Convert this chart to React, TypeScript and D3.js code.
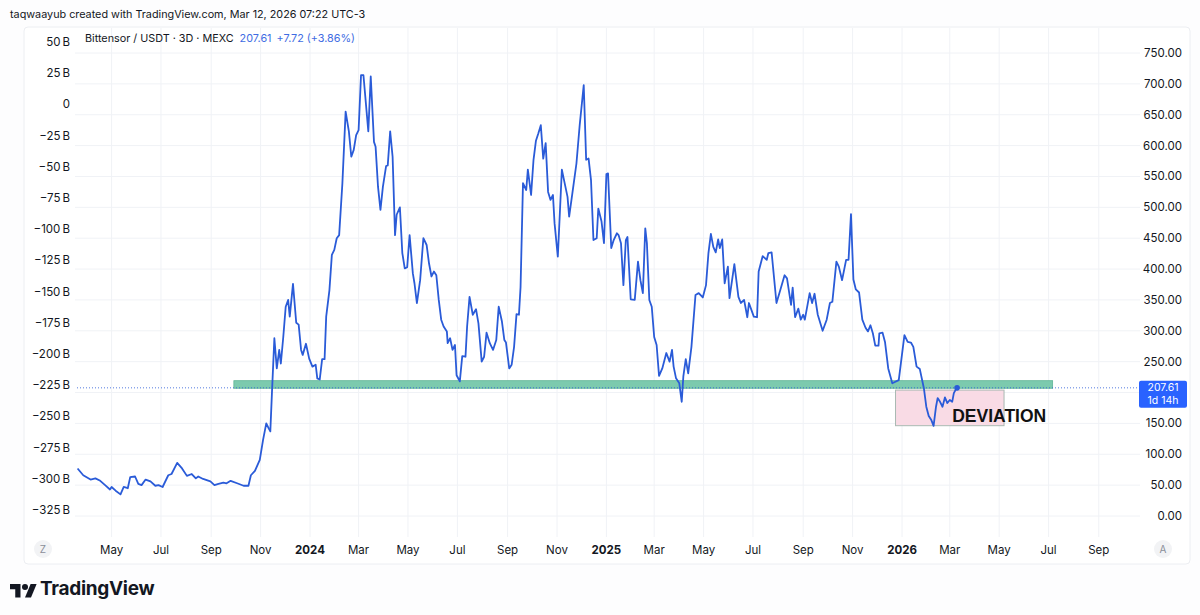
import React from "react";
import * as d3 from "d3";

// TAO / USDT 3D closes
const closes2023: [string, number][] = [
	["2023-03-20", 77], ["2023-03-27", 66], ["2023-04-05", 59], ["2023-04-11", 61],
	["2023-04-17", 57], ["2023-04-23", 50], ["2023-04-29", 43], ["2023-05-01", 47],
	["2023-05-06", 41], ["2023-05-12", 35], ["2023-05-16", 47], ["2023-05-21", 45],
	["2023-05-24", 63], ["2023-05-30", 64], ["2023-06-03", 52], ["2023-06-07", 50],
	["2023-06-12", 59], ["2023-06-18", 56], ["2023-06-24", 49], ["2023-06-28", 50],
	["2023-07-03", 47], ["2023-07-10", 66], ["2023-07-14", 68], ["2023-07-21", 86],
	["2023-07-27", 77], ["2023-08-02", 65], ["2023-08-08", 68], ["2023-08-13", 61],
	["2023-08-16", 64], ["2023-08-22", 60], ["2023-08-31", 56], ["2023-09-05", 50],
	["2023-09-10", 52], ["2023-09-16", 54], ["2023-09-20", 53], ["2023-09-25", 57],
	["2023-10-03", 53], ["2023-10-11", 49], ["2023-10-17", 49], ["2023-10-20", 66],
	["2023-10-25", 73], ["2023-10-31", 91], ["2023-11-04", 123], ["2023-11-08", 150],
	["2023-11-11", 142], ["2023-11-13", 137], ["2023-11-15", 199], ["2023-11-18", 288],
	["2023-11-21", 239], ["2023-11-24", 269], ["2023-11-26", 247], ["2023-11-29", 290],
	["2023-12-02", 339], ["2023-12-05", 350], ["2023-12-07", 323], ["2023-12-11", 376],
	["2023-12-15", 313], ["2023-12-18", 310], ["2023-12-21", 269], ["2023-12-23", 261],
	["2023-12-27", 279], ["2023-12-31", 255],
];

const closes2024: [string, number][] = [
	["2024-01-04", 242], ["2024-01-08", 245], ["2024-01-10", 223], ["2024-01-13", 221],
	["2024-01-16", 254], ["2024-01-19", 254], ["2024-01-21", 323], ["2024-01-25", 366],
	["2024-01-28", 423], ["2024-01-31", 431], ["2024-02-03", 450], ["2024-02-06", 455],
	["2024-02-10", 539], ["2024-02-14", 655], ["2024-02-18", 623], ["2024-02-21", 582],
	["2024-02-24", 593], ["2024-02-27", 617], ["2024-03-01", 625], ["2024-03-04", 714],
	["2024-03-07", 714], ["2024-03-13", 623], ["2024-03-16", 712], ["2024-03-20", 606],
	["2024-03-22", 598], ["2024-03-25", 533], ["2024-03-28", 496], ["2024-03-31", 533],
	["2024-04-04", 567], ["2024-04-06", 568], ["2024-04-09", 623], ["2024-04-12", 582],
	["2024-04-15", 455], ["2024-04-17", 488], ["2024-04-21", 500], ["2024-04-24", 426],
	["2024-04-27", 401], ["2024-04-30", 403], ["2024-05-03", 455], ["2024-05-07", 393],
	["2024-05-09", 377], ["2024-05-12", 345], ["2024-05-16", 382], ["2024-05-20", 450],
	["2024-05-24", 439], ["2024-05-27", 409], ["2024-05-30", 388], ["2024-06-02", 396],
	["2024-06-05", 390], ["2024-06-08", 350], ["2024-06-11", 318], ["2024-06-14", 307],
	["2024-06-18", 299], ["2024-06-19", 280], ["2024-06-22", 288], ["2024-06-25", 269],
	["2024-06-28", 277], ["2024-06-30", 228], ["2024-07-04", 218], ["2024-07-07", 259],
	["2024-07-11", 258], ["2024-07-13", 307], ["2024-07-16", 355], ["2024-07-20", 326],
	["2024-07-24", 335], ["2024-07-27", 312], ["2024-07-31", 250], ["2024-08-03", 258],
	["2024-08-06", 297], ["2024-08-10", 280], ["2024-08-14", 269], ["2024-08-18", 285],
	["2024-08-21", 339], ["2024-08-25", 315], ["2024-08-28", 285], ["2024-08-30", 281],
	["2024-09-03", 239], ["2024-09-06", 245], ["2024-09-09", 274], ["2024-09-12", 327],
	["2024-09-15", 326], ["2024-09-17", 371], ["2024-09-20", 539], ["2024-09-24", 528],
	["2024-09-26", 561], ["2024-09-30", 520], ["2024-10-03", 577], ["2024-10-06", 608],
	["2024-10-09", 620], ["2024-10-12", 633], ["2024-10-15", 579], ["2024-10-18", 604],
	["2024-10-21", 525], ["2024-10-24", 512], ["2024-10-27", 520], ["2024-10-29", 474],
	["2024-11-02", 420], ["2024-11-07", 561], ["2024-11-10", 542], ["2024-11-14", 517],
	["2024-11-16", 485], ["2024-11-20", 523], ["2024-11-25", 571], ["2024-11-29", 633],
	["2024-12-04", 698], ["2024-12-07", 577], ["2024-12-10", 579], ["2024-12-13", 544],
	["2024-12-16", 447], ["2024-12-20", 450], ["2024-12-22", 498], ["2024-12-26", 477],
	["2024-12-29", 442],
];

const closes2025: [string, number][] = [
	["2025-01-01", 554], ["2025-01-03", 555], ["2025-01-07", 434], ["2025-01-10", 447],
	["2025-01-14", 458], ["2025-01-16", 455], ["2025-01-19", 442], ["2025-01-22", 374],
	["2025-01-25", 447], ["2025-01-27", 452], ["2025-01-31", 351], ["2025-02-05", 350],
	["2025-02-09", 412], ["2025-02-12", 382], ["2025-02-15", 361], ["2025-02-18", 466],
	["2025-02-20", 442], ["2025-02-23", 350], ["2025-02-26", 339], ["2025-03-01", 290],
	["2025-03-04", 277], ["2025-03-07", 227], ["2025-03-11", 239], ["2025-03-16", 264],
	["2025-03-20", 250], ["2025-03-23", 269], ["2025-03-25", 242], ["2025-03-28", 223],
	["2025-04-01", 215], ["2025-04-04", 185], ["2025-04-06", 226], ["2025-04-09", 254],
	["2025-04-12", 231], ["2025-04-16", 274], ["2025-04-21", 358], ["2025-04-25", 361],
	["2025-04-30", 354], ["2025-05-04", 374], ["2025-05-07", 426], ["2025-05-10", 457],
	["2025-05-13", 436], ["2025-05-16", 427], ["2025-05-19", 448], ["2025-05-21", 434],
	["2025-05-24", 448], ["2025-05-27", 377], ["2025-05-31", 404], ["2025-06-02", 353],
	["2025-06-08", 408], ["2025-06-13", 355], ["2025-06-16", 345], ["2025-06-20", 350],
	["2025-06-24", 322], ["2025-06-26", 345], ["2025-07-02", 323], ["2025-07-06", 322],
	["2025-07-08", 396], ["2025-07-13", 421], ["2025-07-18", 415], ["2025-07-20", 426],
	["2025-07-24", 427], ["2025-07-30", 345], ["2025-08-03", 363], ["2025-08-09", 390],
	["2025-08-12", 385], ["2025-08-17", 342], ["2025-08-19", 370], ["2025-08-22", 322],
	["2025-08-26", 336], ["2025-08-29", 318], ["2025-09-01", 326], ["2025-09-03", 318],
	["2025-09-09", 361], ["2025-09-12", 345], ["2025-09-15", 360], ["2025-09-19", 326],
	["2025-09-25", 300], ["2025-09-30", 318], ["2025-10-04", 345], ["2025-10-07", 347],
	["2025-10-12", 412], ["2025-10-15", 404], ["2025-10-19", 382], ["2025-10-24", 415],
	["2025-10-27", 415], ["2025-10-30", 489], ["2025-11-02", 383], ["2025-11-05", 367],
	["2025-11-09", 362], ["2025-11-13", 318], ["2025-11-17", 305], ["2025-11-20", 299],
	["2025-11-23", 309], ["2025-11-26", 296], ["2025-11-29", 276], ["2025-12-03", 276],
	["2025-12-04", 296], ["2025-12-08", 297], ["2025-12-11", 282], ["2025-12-15", 239],
	["2025-12-20", 215], ["2025-12-28", 220],
];

const closes2026: [string, number][] = [
	["2026-01-04", 293], ["2026-01-08", 282], ["2026-01-12", 281], ["2026-01-15", 274],
	["2026-01-19", 242], ["2026-01-23", 238], ["2026-01-28", 207], ["2026-01-31", 177],
	["2026-02-03", 162], ["2026-02-06", 156], ["2026-02-09", 146], ["2026-02-12", 177],
	["2026-02-14", 191], ["2026-02-17", 185], ["2026-02-20", 177], ["2026-02-23", 192],
	["2026-02-26", 183], ["2026-03-01", 188], ["2026-03-04", 185], ["2026-03-06", 199],
	["2026-03-08", 204], ["2026-03-10", 207.61],
];

const lastPrice = 207.61;
const priceTicks = [0, 50, 100, 150, 200, 250, 300, 350, 400, 450, 500, 550, 600, 650, 700, 750];
const leftTicks = [50, 25, 0, -25, -50, -75, -100, -125, -150, -175, -200, -225, -250, -275, -300, -325];
const timeTicks = [
	"2023-05-01", "2023-07-01", "2023-09-01", "2023-11-01", "2024-01-01", "2024-03-01",
	"2024-05-01", "2024-07-01", "2024-09-01", "2024-11-01", "2025-01-01", "2025-03-01",
	"2025-05-01", "2025-07-01", "2025-09-01", "2025-11-01", "2026-01-01", "2026-03-01",
	"2026-05-01", "2026-07-01", "2026-09-01",
];
const supportZonePrices = [206.9, 219.2];
const supportZoneDates = ["2023-09-29", "2026-07-06"];
const deviationPrices = [146.3, 204];
const deviationDates = ["2025-12-24", "2026-05-07"];

const parse = d3.timeParse("%Y-%m-%d");
const FONT = "Inter, Roboto, sans-serif";
const TEXT = "#131722";
const GRID = "#f0f2f6";
const LINE = "#2a5bd8";

const x = d3.scaleTime().domain([parse("2024-01-01")!, parse("2026-01-01")!]).range([310, 902]);
const y = d3.scaleLinear().domain([0, 750]).range([516, 53]);
const yLeft = d3.scaleLinear().domain([50, -325]).range([42, 510]);

const tickLabel = (d: Date) =>
	d.getMonth() === 0 ? d3.timeFormat("%Y")(d) : d3.timeFormat("%b")(d);
const leftLabel = (v: number) => (v === 0 ? "0" : `${v < 0 ? "\u2212" : ""}${Math.abs(v)}\u2009B`);

export default function App() {
	const series = [...closes2023, ...closes2024, ...closes2025, ...closes2026].map(
		([d, v]) => ({ date: parse(d)!, value: v })
	);
	const line = d3
		.line<{ date: Date; value: number }>()
		.x((d) => x(d.date))
		.y((d) => y(d.value));
	const last = series[series.length - 1];

	const zx0 = x(parse(supportZoneDates[0])!);
	const zx1 = x(parse(supportZoneDates[1])!);
	const dx0 = x(parse(deviationDates[0])!);
	const dx1 = x(parse(deviationDates[1])!);

	// the price label covers the tick right under it
	const visibleTicks = priceTicks.filter((p) => Math.abs(y(p) - y(lastPrice)) > 14);

	return (
		<svg
			width={1200}
			height={615}
			style={{ position: "absolute", left: 0, top: 0, background: "#fff" }}
			fontFamily={FONT}
		>
			<rect x={0} y={0} width={1200} height={615} fill="#fdfdfe" />
			<rect x={24} y={27} width={1166} height={537} fill="#fff" stroke="#eceef2" rx={4} />

			<text x={10} y={18} fontSize={10.8} fill={TEXT}>
				taqwaayub created with TradingView.com, Mar 12, 2026 07:22 UTC-3
			</text>

			{/* grid */}
			{timeTicks.map((t) => (
				<line key={t} x1={x(parse(t)!)} x2={x(parse(t)!)} y1={28} y2={537} stroke={GRID} />
			))}
			{priceTicks.map((p) => (
				<line key={p} x1={75} x2={1140} y1={y(p)} y2={y(p)} stroke={GRID} />
			))}

			{/* support zone + deviation box */}
			<rect
				x={zx0}
				y={y(supportZonePrices[1])}
				width={zx1 - zx0}
				height={y(supportZonePrices[0]) - y(supportZonePrices[1])}
				fill="#7ccaae"
				stroke="#5fb596"
				strokeWidth={0.8}
			/>
			<rect
				x={dx0}
				y={y(deviationPrices[1])}
				width={dx1 - dx0}
				height={y(deviationPrices[0]) - y(deviationPrices[1])}
				fill="#f9dbe5"
				stroke="#a9b9b2"
				strokeWidth={1}
			/>

			{/* last price line */}
			<line
				x1={77}
				x2={1139}
				y1={y(lastPrice)}
				y2={y(lastPrice)}
				stroke={LINE}
				strokeWidth={1}
				strokeDasharray="1 2"
				opacity={0.8}
			/>

			<path d={line(series)!} fill="none" stroke={LINE} strokeWidth={1.8} strokeLinejoin="round" />
			<circle cx={x(last.date)} cy={y(last.value)} r={2.8} fill={LINE} />

			<text
				x={x(parse("2026-03-04")!)}
				y={y(152.8)}
				fontSize={17.5}
				fontWeight={700}
				fill="#111"
				fontFamily="'Liberation Sans', Arial, sans-serif"
			>
				DEVIATION
			</text>

			{/* legend */}
			<text x={85} y={42} fontSize={10.8} fill={TEXT}>
				Bittensor / USDT · 3D · MEXC
				<tspan dx={6} fill="#3f6de3">207.61</tspan>
				<tspan dx={5} fill="#3f6de3">+7.72 (+3.86%)</tspan>
			</text>

			{/* left scale */}
			{leftTicks.map((v) => (
				<text key={v} x={70} y={yLeft(v)} dy="0.35em" textAnchor="end" fontSize={11.5} fill={TEXT}>
					{leftLabel(v)}
				</text>
			))}

			{/* right scale */}
			{visibleTicks.map((p) => (
				<text key={p} x={1182} y={y(p)} dy="0.35em" textAnchor="end" fontSize={11.5} fill={TEXT}>
					{p.toFixed(2)}
				</text>
			))}
			<rect x={1139} y={y(lastPrice) - 7} width={48} height={27} rx={2} fill="#2962ff" />
			<text x={1163} y={y(lastPrice) + 3} textAnchor="middle" fontSize={10.5} fill="#fff">
				{lastPrice.toFixed(2)}
			</text>
			<text x={1163} y={y(lastPrice) + 16.5} textAnchor="middle" fontSize={10.5} fill="#fff">
				1d 14h
			</text>

			{/* time scale */}
			{timeTicks.map((t) => {
				const d = parse(t)!;
				return (
					<text
						key={t}
						x={x(d)}
						y={550}
						dy="0.35em"
						textAnchor="middle"
						fontSize={11.5}
						fontWeight={d.getMonth() === 0 ? 700 : 400}
						fill={TEXT}
					>
						{tickLabel(d)}
					</text>
				);
			})}
			<circle cx={43} cy={549} r={9} fill="#f2f3f5" />
			<text x={43} y={549} dy="0.35em" textAnchor="middle" fontSize={10} fill="#8a8e99">Z</text>
			<circle cx={1163} cy={549} r={9} fill="#f2f3f5" />
			<text x={1163} y={549} dy="0.35em" textAnchor="middle" fontSize={10} fill="#8a8e99">A</text>

			{/* logo */}
			<g transform="translate(10,581) scale(0.75)" fill="#131722">
				<path d="M14 22H7V11H0V4h14v18z" />
				<circle cx={20} cy={8} r={4} />
				<path d="M28 22h-8l7.5-18h8L28 22z" />
			</g>
			<text x={40} y={595} fontSize={19} fontWeight={700} fill="#131722" letterSpacing={-0.3}>
				TradingView
			</text>
		</svg>
	);
}
